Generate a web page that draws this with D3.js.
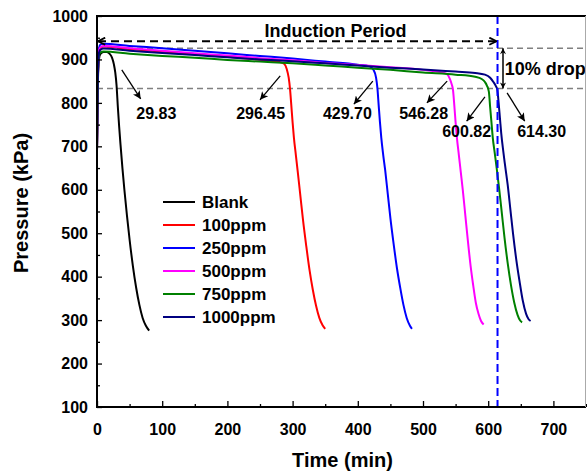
<!DOCTYPE html>
<html><head><meta charset="utf-8">
<script src="https://cdn.jsdelivr.net/npm/d3@7"></script>
<style>
html,body{margin:0;padding:0;background:#fff;}
svg{display:block;font-family:"Liberation Sans",Arial,Helvetica,sans-serif;font-weight:bold;}
</style></head><body>
<svg id="chart" width="587" height="471"></svg>
<script>
// ---------- data ----------
const seriesNames = ["Blank","100ppm","250ppm","500ppm","750ppm","1000ppm"];
const seriesColors = ["#000000","#ff0000","#0000ff","#ff00ff","#008000","#000080"];

// [time (min), pressure (kPa)]
const blank = [[0,690],[1,820],[2,880],[3,900],[5,912],[10,917],[15,917],[20,912],[23,904],[26,888],[28,870],[30,840],[32,790],[34,745],[36,705],[39,650],[42,600],[46,540],[50,485],[55,425],[60,375],[65,335],[70,305],[75,287],[80,276]];
const ppm100 = [[0,690],[1,830],[2,890],[3,915],[5,926],[10,930],[50,924],[100,918],[150,912],[200,906],[250,899],[280,894],[287,890],[291,878],[294,858],[296,833],[298,795],[300,755],[302,720],[305,680],[308,640],[312,585],[316,530],[321,470],[326,415],[331,370],[336,333],[341,305],[346,288],[350,280]];
const ppm250 = [[0,690],[1,840],[2,900],[3,925],[5,934],[10,936],[50,931],[100,926],[150,920],[200,914],[250,908],[300,902],[350,895],[400,888],[418,884],[424,876],[428,858],[430,835],[432,795],[434,755],[436,720],[439,680],[442,645],[446,590],[450,535],[455,475],[460,420],[465,375],[470,335],[475,305],[480,287],[483,280]];
const ppm500 = [[0,690],[1,835],[2,895],[3,920],[5,928],[10,931],[50,926],[100,920],[150,914],[200,909],[250,903],[300,898],[350,892],[400,887],[450,882],[500,876],[530,870],[537,866],[541,856],[544,843],[546,830],[548,795],[550,755],[552,720],[555,680],[558,640],[561,600],[565,540],[569,480],[573,425],[577,380],[581,340],[585,315],[589,298],[593,290]];
const ppm750 = [[0,690],[1,830],[2,890],[3,910],[5,916],[10,918],[50,913],[100,908],[150,904],[200,899],[250,895],[300,891],[350,886],[400,881],[450,876],[500,870],[550,865],[580,860],[590,855],[595,848],[598,840],[601,826],[603,790],[605,755],[607,720],[610,685],[613,650],[617,600],[621,545],[625,490],[630,430],[635,380],[640,340],[645,312],[649,299],[652,295]];
const ppm1000 = [[0,690],[1,835],[2,893],[3,915],[5,922],[10,925],[50,920],[100,915],[150,910],[200,905],[250,900],[300,896],[350,891],[400,886],[450,881],[500,877],[550,872],[580,869],[595,865],[603,858],[608,848],[612,838],[614,830],[616,800],[618,765],[620,730],[623,690],[626,655],[630,610],[634,555],[638,500],[643,440],[648,390],[653,345],[658,315],[662,302],[665,298]];
const seriesData = [blank, ppm100, ppm250, ppm500, ppm750, ppm1000];

const inductionTimes = [29.83, 296.45, 429.70, 546.28, 600.82, 614.30];
const inductionLabels = ["29.83","296.45","429.70","546.28","600.82","614.30"];
// arrow start / end and label anchor, in data units
const arrowFrom = [[38,876],[281,862],[423,850],[537,850],[595,814],[629,823]];
const arrowTo   = [[67,809],[250,807],[394,797],[506,800],[567,758],[656,758]];
const labelAt   = [[91,763],[251,763],[384,763],[501,763],[567,721],[682,721]];

const xTicks = [0,100,200,300,400,500,600,700];
const xMinor = [50,150,250,350,450,550,650,750];
const yTicks = [100,200,300,400,500,600,700,800,900,1000];
const yMinor = [150,250,350,450,550,650,750,850,950];

const initialPressure = 926;     // plateau reference
const dropPressure = 833.4;      // 10% drop
const inductionLineP = 942;
const inductionEnd = 614.30;
const dropArrowT = 622.7;

// ---------- chart ----------
const svg = d3.select("#chart");
const x = d3.scaleLinear().domain([0,750]).range([97,586]);
const y = d3.scaleLinear().domain([100,1000]).range([407,16]);

const defs = svg.append("defs");
defs.append("marker").attr("id","arrowF").attr("markerUnits","userSpaceOnUse")
  .attr("viewBox","0 0 10 10").attr("refX",10).attr("refY",5)
  .attr("markerWidth",10).attr("markerHeight",8).attr("orient","auto")
  .append("path").attr("d","M0,0 L10,5 L0,10 L2.5,5 Z").attr("fill","#000");
defs.append("marker").attr("id","chev").attr("markerUnits","userSpaceOnUse")
  .attr("viewBox","0 0 10 10").attr("refX",9).attr("refY",5)
  .attr("markerWidth",9).attr("markerHeight",9).attr("orient","auto-start-reverse")
  .append("path").attr("d","M1,1 L9,5 L1,9").attr("fill","none").attr("stroke","#000").attr("stroke-width",2);
defs.append("marker").attr("id","narrow").attr("markerUnits","userSpaceOnUse")
  .attr("viewBox","0 0 10 10").attr("refX",10).attr("refY",5)
  .attr("markerWidth",9).attr("markerHeight",6).attr("orient","auto-start-reverse")
  .append("path").attr("d","M0,0 L10,5 L0,10 L3,5 Z").attr("fill","#000");

// gray reference lines
[initialPressure, dropPressure].forEach(p => {
  svg.append("line").attr("x1",x(0)).attr("x2",x(750)).attr("y1",y(p)).attr("y2",y(p))
    .attr("stroke","#808080").attr("stroke-width",1.5).attr("stroke-dasharray","6,4");
});

// curves
const line = d3.line().x(d=>x(d[0])).y(d=>y(d[1])).curve(d3.curveMonotoneX);
seriesData.forEach((s,i) => {
  svg.append("path").datum(s).attr("d",line).attr("fill","none")
    .attr("stroke",seriesColors[i]).attr("stroke-width",2);
});

// blue vertical dashed
svg.append("line").attr("x1",x(inductionEnd)).attr("x2",x(inductionEnd))
  .attr("y1",y(1000)).attr("y2",y(100))
  .attr("stroke","#0000ff").attr("stroke-width",2).attr("stroke-dasharray","8,4");

// induction period line
svg.append("line").attr("x1",x(0)+1).attr("x2",x(inductionEnd)-1)
  .attr("y1",y(inductionLineP)).attr("y2",y(inductionLineP))
  .attr("stroke","#000").attr("stroke-width",2).attr("stroke-dasharray","8,5")
  .attr("marker-start","url(#chev)").attr("marker-end","url(#chev)");
svg.append("text").attr("x",x(365.8)).attr("y",y(952.4)).attr("text-anchor","middle")
  .attr("font-size",18).text("Induction Period");

// 10% drop arrow
svg.append("line").attr("x1",x(dropArrowT)).attr("x2",x(dropArrowT))
  .attr("y1",y(initialPressure)).attr("y2",y(dropPressure))
  .attr("stroke","#000").attr("stroke-width",1.5)
  .attr("marker-start","url(#narrow)").attr("marker-end","url(#narrow)");
svg.append("text").attr("x",x(625.5)).attr("y",y(864)).attr("font-size",18).text("10% drop");

// value arrows and labels
inductionTimes.forEach((t,i) => {
  svg.append("line").attr("x1",x(arrowFrom[i][0])).attr("y1",y(arrowFrom[i][1]))
    .attr("x2",x(arrowTo[i][0])).attr("y2",y(arrowTo[i][1]))
    .attr("stroke","#000").attr("stroke-width",1.3).attr("marker-end","url(#arrowF)");
  svg.append("text").attr("x",x(labelAt[i][0])).attr("y",y(labelAt[i][1]))
    .attr("text-anchor","middle").attr("font-size",16).text(inductionLabels[i]);
});

// axes
const gx = svg.append("g").attr("transform",`translate(0,${y(100)})`)
  .call(d3.axisBottom(x).tickValues(xTicks).tickSizeInner(-6).tickSizeOuter(0).tickPadding(16.5).tickFormat(d3.format("d")));
svg.append("g").attr("transform",`translate(0,${y(100)})`)
  .call(d3.axisBottom(x).tickValues(xMinor).tickSizeInner(-3).tickSizeOuter(0).tickFormat(""));
const gy = svg.append("g").attr("transform",`translate(${x(0)},0)`)
  .call(d3.axisLeft(y).tickValues(yTicks).tickSizeInner(-5).tickSizeOuter(0).tickPadding(9).tickFormat(d3.format("d")));
svg.append("g").attr("transform",`translate(${x(0)},0)`)
  .call(d3.axisLeft(y).tickValues(yMinor).tickSizeInner(-3).tickSizeOuter(0).tickFormat(""));
svg.selectAll(".domain").remove();
svg.selectAll(".tick line").attr("stroke","#000").attr("stroke-width",1.3);
svg.selectAll(".tick text").attr("font-size",16).attr("font-weight","bold")
  .attr("font-family","'Liberation Sans',Arial,sans-serif").attr("fill","#000");

// frame
svg.append("line").attr("x1",x(0)).attr("x2",x(750)).attr("y1",y(1000)).attr("y2",y(1000)).attr("stroke","#000").attr("stroke-width",2);
svg.append("line").attr("x1",x(0)).attr("x2",x(0)).attr("y1",y(1000)-1).attr("y2",y(100)+1).attr("stroke","#000").attr("stroke-width",2);
svg.append("line").attr("x1",x(0)).attr("x2",x(750)).attr("y1",y(100)).attr("y2",y(100)).attr("stroke","#000").attr("stroke-width",2);
svg.append("line").attr("x1",x(750)-0.5).attr("x2",x(750)-0.5).attr("y1",y(1000)).attr("y2",y(100)).attr("stroke","#aaa").attr("stroke-width",1);

// axis titles
svg.append("text").attr("x",342.5).attr("y",467).attr("text-anchor","middle").attr("font-size",20).text("Time (min)");
svg.append("text").attr("transform","translate(28,203) rotate(-90)").attr("text-anchor","middle").attr("font-size",20).text("Pressure (kPa)");

// legend
const lg = svg.append("g");
seriesNames.forEach((n,i) => {
  const ry = 202 + i*23;
  lg.append("line").attr("x1",163).attr("x2",195).attr("y1",ry).attr("y2",ry)
    .attr("stroke",seriesColors[i]).attr("stroke-width",2);
  lg.append("text").attr("x",202).attr("y",ry+5.8).attr("font-size",17).text(n);
});
</script>
</body></html>
